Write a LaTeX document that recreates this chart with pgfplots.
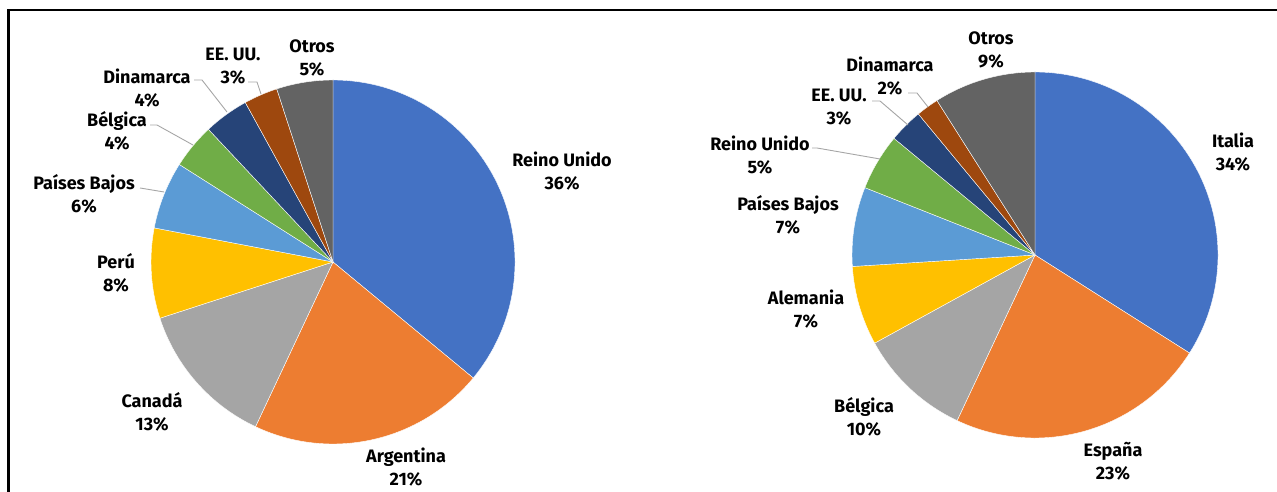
\documentclass[border=0pt]{standalone}
\usepackage{pgfplots}
\pgfplotsset{compat=1.18}
\usepackage{fontspec}
\setmainfont{Fira Sans}
\definecolor{cblue}{HTML}{4472C4}
\definecolor{corange}{HTML}{ED7D31}
\definecolor{cgray}{HTML}{A5A5A5}
\definecolor{cyellow}{HTML}{FFC000}
\definecolor{clblue}{HTML}{5B9BD5}
\definecolor{cgreen}{HTML}{70AD47}
\definecolor{cdblue}{HTML}{264478}
\definecolor{cbrown}{HTML}{9E480E}
\definecolor{cdgray}{HTML}{636363}
\definecolor{cleader}{HTML}{A6A6A6}

% slice: centre x, centre y, radius (pt), cumulative % at start, cumulative % at end, colour
\newcommand{\slice}[6]{%
  \fill[#6,draw=white,line width=0.4pt] (axis cs:#1,#2) -- ++({90-3.6*(#4)}:#3pt)
    arc[start angle={90-3.6*(#4)}, end angle={90-3.6*(#5)}, radius=#3pt] -- cycle;}
\newcommand{\lab}[3]{\node[align=center,inner sep=0pt,font=\fontsize{18}{23}\selectfont\bfseries] at (axis cs:#1,#2) {#3};}
\tikzset{leader/.style={cleader,line width=0.9pt}}

\begin{document}
\begin{tikzpicture}[x=1pt,y=1pt]
\useasboundingbox (0,0) rectangle (1277,492);
\begin{axis}[hide axis, x=1pt, y=1pt, xmin=0, xmax=1277, ymin=0, ymax=492,
  anchor=origin, at={(0,0)}, clip=false]
% left pie: Reino Unido 36, Argentina 21, Canada 13, Peru 8, Paises Bajos 6,
% Belgica 4, Dinamarca 4, EE. UU. 3, Otros 5
\slice{333}{230}{182}{0}{36}{cblue}
\slice{333}{230}{182}{36}{57}{corange}
\slice{333}{230}{182}{57}{70}{cgray}
\slice{333}{230}{182}{70}{78}{cyellow}
\slice{333}{230}{182}{78}{84}{clblue}
\slice{333}{230}{182}{84}{88}{cgreen}
\slice{333}{230}{182}{88}{92}{cdblue}
\slice{333}{230}{182}{92}{95}{cbrown}
\slice{333}{230}{182}{95}{100}{cdgray}
% right pie: Italia 34, Espana 23, Belgica 10, Alemania 7, Paises Bajos 7,
% Reino Unido 5, EE. UU. 3, Dinamarca 2, Otros 9
\slice{1035}{237}{183}{0}{34}{cblue}
\slice{1035}{237}{183}{34}{57}{corange}
\slice{1035}{237}{183}{57}{67}{cgray}
\slice{1035}{237}{183}{67}{74}{cyellow}
\slice{1035}{237}{183}{74}{81}{clblue}
\slice{1035}{237}{183}{81}{86}{cgreen}
\slice{1035}{237}{183}{86}{89}{cdblue}
\slice{1035}{237}{183}{89}{91}{cbrown}
\slice{1035}{237}{183}{91}{100}{cdgray}
% leader lines
\addplot[leader] coordinates {(140,304) (164,300)};
\addplot[leader] coordinates {(150,367) (157,367) (193,347)};
\addplot[leader] coordinates {(194,412) (202,412) (227,380)};
\addplot[leader] coordinates {(248,410) (257,410) (261,398)};
\addplot[leader] coordinates {(908,399) (917,399) (928,385)};
\addplot[leader] coordinates {(872,391) (880,391) (908,367)};
\addplot[leader] coordinates {(812,344) (817,344) (880,333)};
% labels
\lab{562}{321}{Reino Unido\\36\%}
\lab{406}{24.5}{Argentina\\21\%}
\lab{152}{80.5}{Canadá\\13\%}
\lab{116}{219.5}{Perú\\8\%}
\lab{84}{298}{Países Bajos\\6\%}
\lab{117}{361}{Bélgica\\4\%}
\lab{147}{404}{Dinamarca\\4\%}
\lab{233}{425.5}{EE. UU.\\3\%}
\lab{312}{434.5}{Otros\\5\%}
\lab{1233}{339.5}{Italia\\34\%}
\lab{1113}{31}{España\\23\%}
\lab{864}{75.5}{Bélgica\\10\%}
\lab{806}{182.5}{Alemania\\7\%}
\lab{788}{277}{Países Bajos\\7\%}
\lab{760}{337}{Reino Unido\\5\%}
\lab{839}{384.5}{EE. UU.\\3\%}
\lab{890}{415.5}{Dinamarca\\2\%}
\lab{991}{442}{Otros\\9\%}
\end{axis}
\draw[line width=2.5pt] (8.7,0) -- (8.7,482) -- (1277,482);
\end{tikzpicture}
\end{document}
